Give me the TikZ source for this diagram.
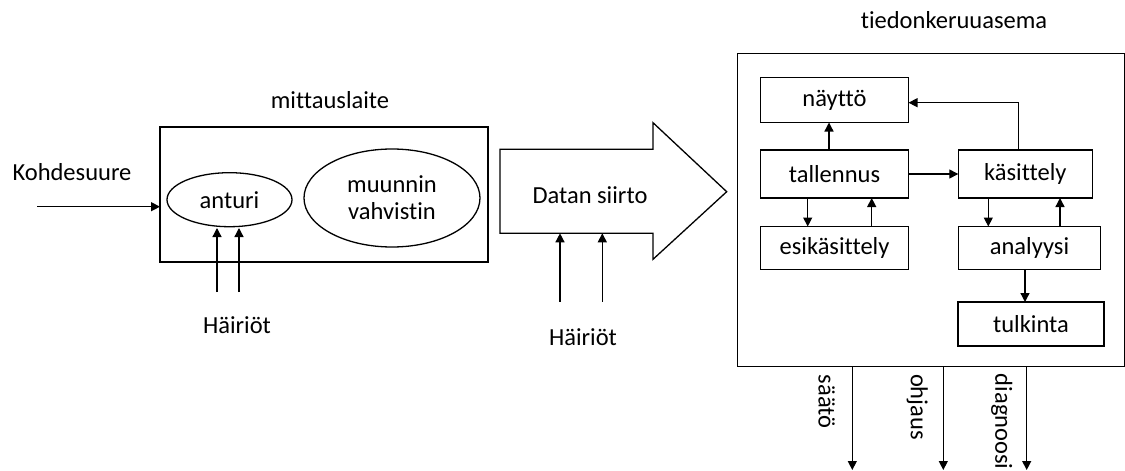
\documentclass[tikz,border=0pt]{standalone}
\usepackage{fontspec}
\setmainfont{Carlito}[Ligatures={NoCommon}]
\usetikzlibrary{arrows.meta,shapes.geometric}
\begin{document}
\begin{tikzpicture}[x=1pt,y=-1pt,
  font=\fontsize{24.5}{28}\selectfont,
  ln/.style={line width=1.3pt, draw=black},
  arr/.style={ln, -{Triangle[length=9pt,width=9pt]}},
  blk/.style={ln, rectangle, inner sep=0pt, outer sep=0pt},
  ell/.style={ln, ellipse, inner sep=0pt, outer sep=0pt, align=center},
  lbl/.style={inner sep=0pt, text=black}]
\useasboundingbox (0,0) rectangle (1125,471);
% left part
\node[lbl] (tmit) at (330,100) {mittauslaite};
\node[blk, minimum width=328pt, minimum height=135pt] (mit) at (324,194.5) {};
\node[ell, minimum width=125pt, minimum height=54pt] (ant) at (229.5,199.7) {anturi};
\node[ell, minimum width=176pt, minimum height=98pt] (muu) at (392,198) {muunnin\\[-1pt]vahvistin};
\node[lbl] (koh) at (72,172) {Kohdesuure};
\coordinate (k0) at (37,206.7);
\draw[arr] (k0) -- (k0 -| mit.west);
\coordinate (h1) at (217,292);
\coordinate (h2) at (239,292);
\draw[arr] (h1) -- (217,228);
\draw[arr] (h2) -- (239,228);
\node[lbl] (hai1) at (237,325) {Häiriöt};
% big arrow
\draw[ln] (500,149.3) -- (653,149.3) -- (653,122.7) -- (726.7,191.7) -- (653,259.3) -- (653,233.3) -- (500,233.3) -- cycle;
\node[lbl] (dat) at (590,195) {Datan siirto};
\coordinate (d1) at (560,301.7);
\coordinate (d2) at (602.3,301.7);
\draw[arr] (d1) -- (560,233.3);
\draw[arr] (d2) -- (602.3,233.3);
\node[lbl] (hai2) at (583,337) {Häiriöt};
% right part
\node[lbl] (tst) at (954,20) {tiedonkeruuasema};
\node[blk, minimum width=387pt, minimum height=313pt] (st) at (930.7,209.7) {};
\node[blk, minimum width=148pt, minimum height=45pt] (nay) at (834.5,100) {näyttö};
\node[blk, minimum width=148pt, minimum height=48pt] (tal) at (834.5,174) {tallennus};
\node[blk, minimum width=148pt, minimum height=43pt] (esi) at (834.5,248) {esikäsittely};
\node[blk, minimum width=134pt, minimum height=48pt] (kas) at (1025.3,174) {käsittely};
\node[blk, minimum width=142pt, minimum height=43pt] (ana) at (1029.5,248) {analyysi};
\node[blk, minimum width=146pt, minimum height=44pt] (tul) at (1031,324) {tulkinta};
\coordinate (xa) at (829,0);
\coordinate (xb) at (807.7,0);
\coordinate (xc) at (871.7,0);
\coordinate (xd) at (988.3,0);
\coordinate (xe) at (1060,0);
\coordinate (xf) at (1025,0);
\coordinate (xg) at (1018.3,0);
\draw[arr] (xa |- tal.north) -- (xa |- nay.south);
\draw[arr] (xb |- tal.south) -- (xb |- esi.north);
\draw[arr] (xc |- esi.north) -- (xc |- tal.south);
\draw[arr] (xd |- kas.south) -- (xd |- ana.north);
\draw[arr] (xe |- ana.north) -- (xe |- kas.south);
\draw[arr] (xf |- ana.south) -- (xf |- tul.north);
\draw[arr] (tal.east) -- (kas.west);
\draw[arr] (xg |- kas.north) |- ([yshift=-2.7pt]nay.east);
% outputs
\coordinate (o1) at (852.3,470);
\coordinate (o2) at (943.3,470);
\coordinate (o3) at (1026.7,470);
\draw[arr] (o1 |- st.south) -- (o1);
\draw[arr] (o2 |- st.south) -- (o2);
\draw[arr] (o3 |- st.south) -- (o3);
\node[lbl, rotate=-90] (sa) at (826.7,401.7) {säätö};
\node[lbl, rotate=-90] (oh) at (917.3,407) {ohjaus};
\node[lbl, rotate=-90] (di) at (1001.7,421.7) {diagnoosi};
\end{tikzpicture}
\end{document}
